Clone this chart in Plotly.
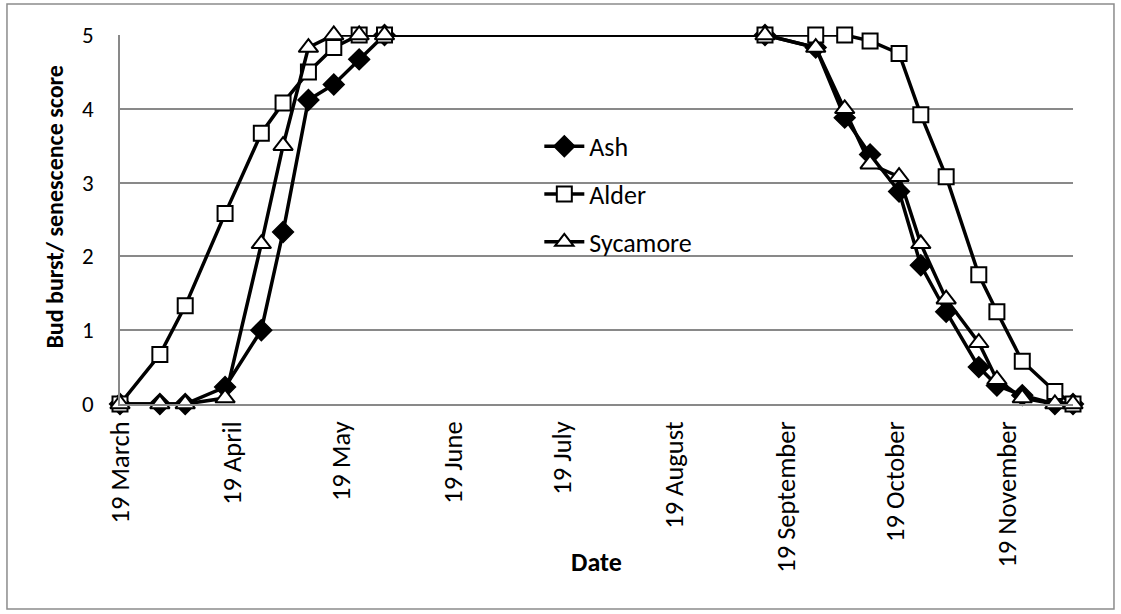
import plotly.graph_objects as go

# ---- data ----
dates = ["2011-03-19", "2011-03-30", "2011-04-06", "2011-04-17", "2011-04-27",
         "2011-05-03", "2011-05-10", "2011-05-17", "2011-05-24", "2011-05-31",
         "2011-09-13", "2011-09-27", "2011-10-05", "2011-10-12", "2011-10-20",
         "2011-10-26", "2011-11-02", "2011-11-11", "2011-11-16", "2011-11-23",
         "2011-12-02", "2011-12-07"]
ash = [0, 0, 0, 0.23, 1.0, 2.33, 4.12, 4.33, 4.67, 5,
       5, 4.83, 3.88, 3.38, 2.88, 1.88, 1.25, 0.5, 0.25, 0.12, 0, 0]
alder = [0, 0.67, 1.33, 2.58, 3.67, 4.08, 4.5, 4.83, 5, 5,
         5, 5, 5, 4.92, 4.75, 3.92, 3.08, 1.75, 1.25, 0.58, 0.17, 0]
sycamore = [0, 0, 0, 0.08, 2.17, 3.5, 4.83, 5, 5, 5,
            5, 4.83, 4.0, 3.25, 3.08, 2.17, 1.42, 0.83, 0.33, 0.08, 0, 0]

tick_vals = ["2011-03-19", "2011-04-19", "2011-05-19", "2011-06-19", "2011-07-19",
             "2011-08-19", "2011-09-19", "2011-10-19", "2011-11-19"]
tick_text = ["19 March", "19 April", "19 May", "19 June", "19 July",
             "19 August", "19 September", "19 October", "19 November"]

FONT = "Carlito, Lato, sans-serif"
GRID = "#898989"

fig = go.Figure()
series = [
    ("Ash", ash, dict(symbol="diamond", size=16, color="black",
                      line=dict(color="black", width=1.5))),
    ("Alder", alder, dict(symbol="square", size=15, color="white",
                          line=dict(color="black", width=2))),
    ("Sycamore", sycamore, dict(symbol="triangle-up", size=17, color="white",
                                line=dict(color="black", width=2))),
]
for name, vals, mk in series:
    fig.add_trace(go.Scatter(
        x=dates, y=vals, name=name, mode="lines+markers",
        line=dict(color="black", width=3.5), marker=mk,
        cliponaxis=False, legendgroup=name,
    ))

fig.update_layout(
    width=1121, height=614,
    margin=dict(l=120, r=48, t=35, b=210),
    paper_bgcolor="white", plot_bgcolor="white",
    font=dict(family=FONT, color="black"),
    showlegend=True,
    legend=dict(x=0.44, y=0.762, xanchor="left", yanchor="top",
                bgcolor="rgba(0,0,0,0)", font=dict(size=26, family=FONT),
                traceorder="grouped", tracegroupgap=11, itemwidth=40),
    xaxis=dict(type="date", range=["2011-03-19", "2011-12-07"],
               tickmode="array", tickvals=tick_vals, ticktext=tick_text,
               tickangle=-90, tickfont=dict(size=26.5, family=FONT),
               showgrid=False, showline=True, linecolor=GRID, linewidth=1.5,
               ticks="", ticklabelstandoff=5, zeroline=False),
    yaxis=dict(range=[0, 5], dtick=1, tickfont=dict(size=23, family=FONT),
               showgrid=True, gridcolor=GRID, gridwidth=1.5,
               showline=True, linecolor=GRID, linewidth=1.5,
               ticks="", ticklabelstandoff=20, zeroline=False),
    annotations=[
        dict(text="<b>Bud burst/ senescence score</b>", textangle=-90,
             xref="paper", yref="paper", x=0, y=0.535, xshift=-65,
             xanchor="center", yanchor="middle", showarrow=False,
             font=dict(size=24, family=FONT)),
        dict(text="<b>Date</b>", xref="paper", yref="paper", x=0.5, y=-0.428,
             xanchor="center", yanchor="middle", showarrow=False,
             font=dict(size=26, family=FONT)),
    ],
    shapes=[dict(type="rect", xref="paper", yref="paper",
                 x0=-0.1186, x1=1.043, y0=-0.5556, y1=1.084,
                 line=dict(color="#8c8c8c", width=1.5), fillcolor="rgba(0,0,0,0)",
                 layer="below")],
)

fig.write_html("out.html", config={"displayModeBar": False},
               post_script="document.body.style.margin='0';document.body.style.padding='0';")
